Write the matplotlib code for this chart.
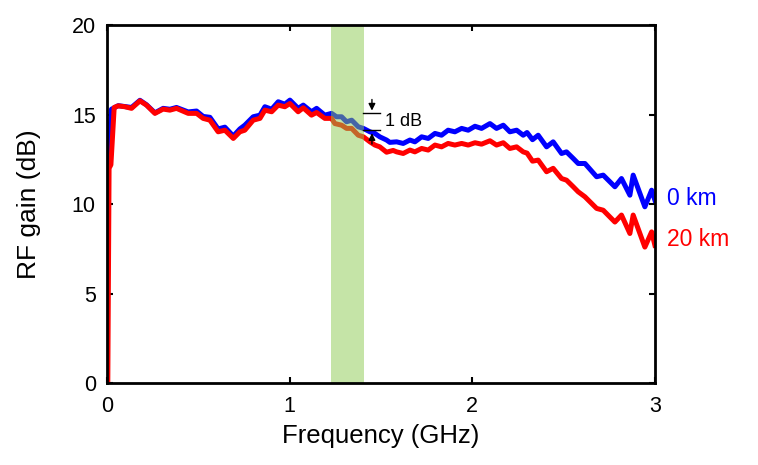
import matplotlib
matplotlib.use("Agg")
import matplotlib.pyplot as plt

plt.rcParams['font.family'] = ['Liberation Sans', 'DejaVu Sans']

# ---- data ----
freq_0km = [0.0, 0.005, 0.025, 0.062, 0.099, 0.135, 0.181, 0.217, 0.263, 0.308, 0.345, 0.381,
            0.445, 0.491, 0.527, 0.564, 0.609, 0.646, 0.692, 0.728, 0.755, 0.801, 0.838, 0.865,
            0.902, 0.938, 0.974, 1.002, 1.047, 1.075, 1.12, 1.148, 1.193, 1.23, 1.257, 1.285,
            1.312, 1.34, 1.376, 1.404, 1.44, 1.467, 1.494, 1.531, 1.549, 1.586, 1.622, 1.659,
            1.686, 1.723, 1.759, 1.796, 1.832, 1.868, 1.905, 1.942, 1.978, 2.015, 2.051, 2.097,
            2.133, 2.17, 2.206, 2.243, 2.279, 2.3, 2.33, 2.361, 2.407, 2.443, 2.489, 2.516,
            2.553, 2.58, 2.617, 2.681, 2.717, 2.781, 2.817, 2.863, 2.881, 2.945, 2.982, 3.0]
gain_0km = [12.2, 12.3, 15.3, 15.5, 15.45, 15.4, 15.8, 15.55, 15.1, 15.35, 15.3, 15.4,
            15.15, 15.2, 14.9, 14.85, 14.2, 14.3, 13.8, 14.2, 14.41, 14.88, 14.97, 15.44,
            15.3, 15.72, 15.58, 15.81, 15.35, 15.53, 15.16, 15.35, 14.97, 15.07, 14.88, 14.88,
            14.6, 14.69, 14.32, 14.23, 14.04, 13.95, 13.76, 13.58, 13.45, 13.48, 13.39, 13.58,
            13.48, 13.76, 13.67, 13.95, 13.85, 14.13, 14.04, 14.23, 14.13, 14.35, 14.23, 14.5,
            14.23, 14.41, 14.04, 14.13, 13.85, 14.0, 13.6, 13.85, 13.2, 13.48, 12.83, 12.92,
            12.55, 12.27, 12.27, 11.53, 11.62, 10.97, 11.43, 10.5, 11.62, 9.85, 10.78, 10.22]

freq_20km = [0.005, 0.012, 0.022, 0.04, 0.062, 0.099, 0.135, 0.181, 0.217, 0.263, 0.308, 0.345,
             0.381, 0.445, 0.491, 0.527, 0.564, 0.609, 0.646, 0.692, 0.728, 0.755, 0.801, 0.838,
             0.865, 0.902, 0.938, 0.974, 1.002, 1.047, 1.075, 1.12, 1.148, 1.193, 1.23, 1.248,
             1.285, 1.312, 1.34, 1.376, 1.404, 1.44, 1.467, 1.494, 1.531, 1.567, 1.586, 1.622,
             1.659, 1.686, 1.723, 1.759, 1.796, 1.832, 1.868, 1.905, 1.942, 1.978, 2.015, 2.051,
             2.097, 2.133, 2.17, 2.206, 2.243, 2.279, 2.3, 2.33, 2.361, 2.407, 2.443, 2.489,
             2.516, 2.553, 2.58, 2.617, 2.681, 2.717, 2.781, 2.817, 2.863, 2.881, 2.945, 2.982, 3.0]
gain_20km = [0.0, 12.0, 12.2, 15.4, 15.49, 15.44, 15.35, 15.77, 15.53, 15.07, 15.31, 15.25,
             15.35, 15.07, 15.07, 14.79, 14.69, 14.04, 14.13, 13.67, 14.04, 14.13, 14.69, 14.79,
             15.25, 15.16, 15.53, 15.44, 15.62, 15.16, 15.38, 14.97, 15.12, 14.79, 14.79, 14.5,
             14.41, 14.23, 14.23, 13.85, 13.76, 13.48, 13.3, 13.2, 12.9, 13.0, 12.92, 12.83,
             13.02, 12.92, 13.11, 13.02, 13.3, 13.2, 13.39, 13.3, 13.39, 13.3, 13.43, 13.35,
             13.54, 13.3, 13.43, 13.11, 13.2, 12.92, 12.85, 12.4, 12.46, 11.81, 12.0, 11.43,
             11.34, 10.97, 10.69, 10.41, 9.76, 9.66, 9.0, 9.39, 8.36, 9.39, 7.6, 8.45, 7.7]

band = [1.226, 1.407]
x_ticks = [0, 1, 2, 3]
y_ticks = [0, 5, 10, 15, 20]
series_labels = ["0 km", "20 km"]

fig = plt.figure(figsize=(7.58, 4.65), dpi=100)
ax = fig.add_axes([0.141, 0.176, 0.723, 0.770])

ax.plot(freq_0km, gain_0km, color='#0000ff', lw=3.6, solid_joinstyle='round', zorder=2)
ax.plot(freq_20km, gain_20km, color='#ff0000', lw=3.6, solid_joinstyle='round', zorder=3)
ax.axvspan(band[0], band[1], color='#8dcb51', alpha=0.5, lw=0, zorder=4)

# 1 dB marker
ax.plot([1.403, 1.494], [15.07, 15.07], color='black', lw=1, zorder=5)
ax.plot([1.403, 1.494], [14.12, 14.12], color='black', lw=1, zorder=5)
ax.annotate('', xy=(1.451, 15.07), xytext=(1.451, 16.0),
            arrowprops=dict(arrowstyle='-|>', color='black', lw=1, mutation_scale=10), zorder=5)
ax.annotate('', xy=(1.451, 14.12), xytext=(1.451, 13.2),
            arrowprops=dict(arrowstyle='-|>', color='black', lw=1, mutation_scale=10), zorder=5)
ax.text(1.522, 14.62, '1 dB', fontsize=13, va='center', ha='left', zorder=5)

ax.set_xlim(0, 3)
ax.set_ylim(0, 20)
ax.set_xticks(x_ticks)
ax.set_yticks(y_ticks)
ax.tick_params(direction='in', length=4, width=1.5, top=True, right=True,
               labelsize=15.5)
ax.tick_params(axis='x', pad=9)
ax.tick_params(axis='y', pad=8)
for s in ax.spines.values():
    s.set_linewidth(2)
    s.set_zorder(6)

ax.set_xlabel('Frequency (GHz)', fontsize=18.5, labelpad=5)
ax.set_ylabel('RF gain (dB)', fontsize=19, labelpad=22)

ax.text(1.022, 10.3, series_labels[0], transform=ax.get_yaxis_transform(),
        color='#0000ff', fontsize=16.5, va='center', ha='left')
ax.text(1.022, 8.0, series_labels[1], transform=ax.get_yaxis_transform(),
        color='#ff0000', fontsize=16.5, va='center', ha='left')

fig.savefig('out.png', dpi=100)
